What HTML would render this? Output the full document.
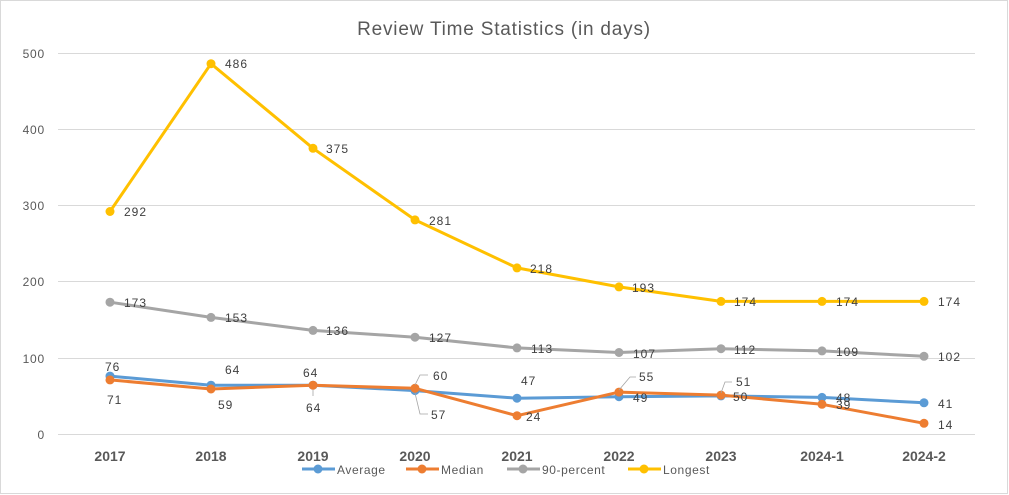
<!DOCTYPE html>
<html><head><meta charset="utf-8"><style>
html,body{margin:0;padding:0;background:#fff;}
svg{display:block;font-family:"Liberation Sans",sans-serif;}
</style></head><body>
<svg width="1009" height="495" viewBox="0 0 1009 495">
<rect x="0.5" y="0.5" width="1007" height="493" fill="#fff" stroke="#d9d9d9"/>
<text x="504" y="35" text-anchor="middle" font-size="19" fill="#595959" letter-spacing="0.8">Review Time Statistics (in days)</text>
<g stroke="#d9d9d9" stroke-width="1">
<line x1="58" x2="975" y1="53.5" y2="53.5"/><line x1="58" x2="975" y1="129.5" y2="129.5"/>
<line x1="58" x2="975" y1="205.5" y2="205.5"/><line x1="58" x2="975" y1="281.5" y2="281.5"/>
<line x1="58" x2="975" y1="358.5" y2="358.5"/><line x1="58" x2="975" y1="434.5" y2="434.5"/>
</g>
<g font-size="12" fill="#595959" text-anchor="end" letter-spacing="0.8">
<text x="45" y="58">500</text><text x="45" y="134">400</text><text x="45" y="210">300</text>
<text x="45" y="286">200</text><text x="45" y="363">100</text><text x="45" y="439">0</text>
</g>
<g font-size="14" font-weight="bold" fill="#595959" text-anchor="middle">
<text x="110" y="461">2017</text><text x="211" y="461">2018</text><text x="313" y="461">2019</text>
<text x="415" y="461">2020</text><text x="517" y="461">2021</text><text x="619" y="461">2022</text>
<text x="721" y="461">2023</text><text x="822" y="461">2024-1</text><text x="924" y="461">2024-2</text>
</g>
<g fill="none" stroke-width="3" stroke-linejoin="round">
<polyline stroke="#5b9bd5" points="110,376.1 211,385.2 313,385.2 415,390.6 517,398.2 619,396.7 721,395.9 822,397.4 924,402.8"/>
<polyline stroke="#ed7d31" points="110,379.9 211,389 313,385.2 415,388.3 517,415.7 619,392.1 721,395.1 822,404.3 924,423.3"/>
<polyline stroke="#a5a5a5" points="110,302.2 211,317.4 313,330.4 415,337.2 517,347.9 619,352.5 721,348.7 822,350.9 924,356.3"/>
<polyline stroke="#ffc000" points="110,211.5 211,63.7 313,148.3 415,219.9 517,267.9 619,286.9 721,301.4 822,301.4 924,301.4"/>
</g>
<g fill="#5b9bd5"><circle cx="110" cy="376.1" r="4.5"/><circle cx="211" cy="385.2" r="4.5"/><circle cx="313" cy="385.2" r="4.5"/><circle cx="415" cy="390.6" r="4.5"/><circle cx="517" cy="398.2" r="4.5"/><circle cx="619" cy="396.7" r="4.5"/><circle cx="721" cy="395.9" r="4.5"/><circle cx="822" cy="397.4" r="4.5"/><circle cx="924" cy="402.8" r="4.5"/></g>
<g fill="#ed7d31"><circle cx="110" cy="379.9" r="4.5"/><circle cx="211" cy="389" r="4.5"/><circle cx="313" cy="385.2" r="4.5"/><circle cx="415" cy="388.3" r="4.5"/><circle cx="517" cy="415.7" r="4.5"/><circle cx="619" cy="392.1" r="4.5"/><circle cx="721" cy="395.1" r="4.5"/><circle cx="822" cy="404.3" r="4.5"/><circle cx="924" cy="423.3" r="4.5"/></g>
<g fill="#a5a5a5"><circle cx="110" cy="302.2" r="4.5"/><circle cx="211" cy="317.4" r="4.5"/><circle cx="313" cy="330.4" r="4.5"/><circle cx="415" cy="337.2" r="4.5"/><circle cx="517" cy="347.9" r="4.5"/><circle cx="619" cy="352.5" r="4.5"/><circle cx="721" cy="348.7" r="4.5"/><circle cx="822" cy="350.9" r="4.5"/><circle cx="924" cy="356.3" r="4.5"/></g>
<g fill="#ffc000"><circle cx="110" cy="211.5" r="4.5"/><circle cx="211" cy="63.7" r="4.5"/><circle cx="313" cy="148.3" r="4.5"/><circle cx="415" cy="219.9" r="4.5"/><circle cx="517" cy="267.9" r="4.5"/><circle cx="619" cy="286.9" r="4.5"/><circle cx="721" cy="301.4" r="4.5"/><circle cx="822" cy="301.4" r="4.5"/><circle cx="924" cy="301.4" r="4.5"/></g>
<g stroke="#a5a5a5" fill="none" stroke-width="0.8">
<polyline points="415,385 420,375 428,375"/><polyline points="415,393 420,414 428,414"/>
<polyline points="619,390 630,377 636,377"/><polyline points="721,393 725,382 732,382"/>
<line x1="313" y1="390" x2="313" y2="396"/>
</g>
<g font-size="12" fill="#404040" letter-spacing="1">
<text x="124" y="216">292</text><text x="225" y="68">486</text><text x="326" y="153">375</text>
<text x="429" y="225">281</text><text x="530" y="273">218</text><text x="632" y="292">193</text>
<text x="734" y="306">174</text><text x="836" y="306">174</text><text x="938" y="306">174</text>
<text x="124" y="307">173</text><text x="225" y="322">153</text><text x="326" y="335">136</text>
<text x="429" y="342">127</text><text x="531" y="353">113</text><text x="633" y="358">107</text>
<text x="734" y="354">112</text><text x="836" y="356">109</text><text x="938" y="361">102</text>
<text x="105" y="371">76</text><text x="225" y="374">64</text><text x="303" y="377">64</text>
<text x="433" y="380">60</text><text x="521" y="385">47</text><text x="639" y="381">55</text>
<text x="736" y="386">51</text>
<text x="107" y="404">71</text><text x="218" y="409">59</text><text x="306" y="412">64</text>
<text x="431" y="419">57</text><text x="526" y="421">24</text><text x="633" y="402">49</text>
<text x="733" y="401">50</text><text x="836" y="402">48</text><text x="836" y="409">39</text>
<text x="938" y="408">41</text><text x="938" y="429">14</text>
</g>
<g font-size="12" fill="#595959" letter-spacing="0.6">
<line x1="302" x2="335" y1="469" y2="469" stroke="#5b9bd5" stroke-width="3"/><circle cx="318" cy="469" r="4.5" fill="#5b9bd5"/><text x="337" y="474">Average</text>
<line x1="406" x2="439" y1="469" y2="469" stroke="#ed7d31" stroke-width="3"/><circle cx="422" cy="469" r="4.5" fill="#ed7d31"/><text x="441" y="474">Median</text>
<line x1="507" x2="540" y1="469" y2="469" stroke="#a5a5a5" stroke-width="3"/><circle cx="523" cy="469" r="4.5" fill="#a5a5a5"/><text x="542" y="474">90-percent</text>
<line x1="628" x2="661" y1="469" y2="469" stroke="#ffc000" stroke-width="3"/><circle cx="644" cy="469" r="4.5" fill="#ffc000"/><text x="663" y="474">Longest</text>
</g>
</svg>
</body></html>
